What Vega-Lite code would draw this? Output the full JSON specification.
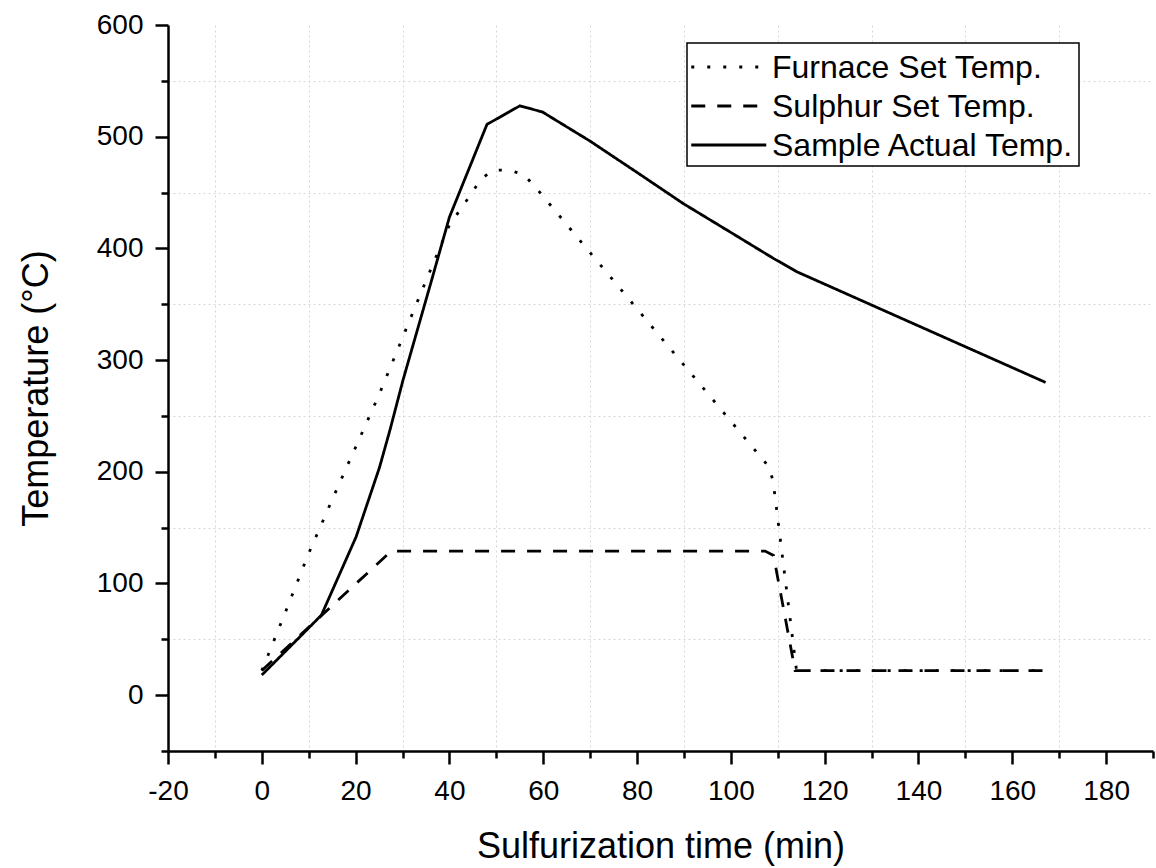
{
  "$schema": "https://vega.github.io/schema/vega-lite/v6.json",
  "width": 985,
  "height": 726,
  "autosize": "none",
  "padding": {"left": 168, "top": 25, "right": 3, "bottom": 117},
  "background": "white",
  "config": {
    "view": {"stroke": null},
    "font": "Liberation Sans",
    "axis": {
      "domainColor": "black",
      "domainWidth": 2.5,
      "tickColor": "black",
      "tickWidth": 2.5,
      "labelFont": "Liberation Sans",
      "labelFontSize": 28,
      "labelColor": "black",
      "titleFont": "Liberation Sans",
      "titleFontSize": 36,
      "titleFontWeight": "normal",
      "titleColor": "black",
      "gridColor": "#d6d6d6",
      "gridDash": [2, 3],
      "gridWidth": 1
    }
  },
  "data": {
    "values": [
      {"t": 0, "temp": 22, "series": "Furnace Set Temp."},
      {"t": 5, "temp": 74, "series": "Furnace Set Temp."},
      {"t": 10, "temp": 127, "series": "Furnace Set Temp."},
      {"t": 15, "temp": 175, "series": "Furnace Set Temp."},
      {"t": 20, "temp": 222, "series": "Furnace Set Temp."},
      {"t": 25, "temp": 269, "series": "Furnace Set Temp."},
      {"t": 30, "temp": 320, "series": "Furnace Set Temp."},
      {"t": 35, "temp": 371, "series": "Furnace Set Temp."},
      {"t": 40, "temp": 421, "series": "Furnace Set Temp."},
      {"t": 42.2, "temp": 434, "series": "Furnace Set Temp."},
      {"t": 44.5, "temp": 448, "series": "Furnace Set Temp."},
      {"t": 46.7, "temp": 462, "series": "Furnace Set Temp."},
      {"t": 49.3, "temp": 470, "series": "Furnace Set Temp."},
      {"t": 52.7, "temp": 470, "series": "Furnace Set Temp."},
      {"t": 55.9, "temp": 466, "series": "Furnace Set Temp."},
      {"t": 58.9, "temp": 452, "series": "Furnace Set Temp."},
      {"t": 108, "temp": 205, "series": "Furnace Set Temp."},
      {"t": 109, "temp": 192, "series": "Furnace Set Temp."},
      {"t": 114, "temp": 22, "series": "Furnace Set Temp."},
      {"t": 167, "temp": 22, "series": "Furnace Set Temp."},
      {"t": 0, "temp": 22, "series": "Sulphur Set Temp."},
      {"t": 27.6, "temp": 129, "series": "Sulphur Set Temp."},
      {"t": 107.3, "temp": 129, "series": "Sulphur Set Temp."},
      {"t": 109.1, "temp": 125, "series": "Sulphur Set Temp."},
      {"t": 113.7, "temp": 22, "series": "Sulphur Set Temp."},
      {"t": 167, "temp": 22, "series": "Sulphur Set Temp."},
      {"t": 0, "temp": 18, "series": "Sample Actual Temp."},
      {"t": 12.7, "temp": 71.6, "series": "Sample Actual Temp."},
      {"t": 20.1, "temp": 141.7, "series": "Sample Actual Temp."},
      {"t": 25.1, "temp": 204, "series": "Sample Actual Temp."},
      {"t": 27.3, "temp": 237, "series": "Sample Actual Temp."},
      {"t": 30.1, "temp": 282, "series": "Sample Actual Temp."},
      {"t": 36.2, "temp": 371.5, "series": "Sample Actual Temp."},
      {"t": 40, "temp": 428, "series": "Sample Actual Temp."},
      {"t": 48, "temp": 511, "series": "Sample Actual Temp."},
      {"t": 55, "temp": 527.6, "series": "Sample Actual Temp."},
      {"t": 59.8, "temp": 522.2, "series": "Sample Actual Temp."},
      {"t": 70, "temp": 496, "series": "Sample Actual Temp."},
      {"t": 80, "temp": 468, "series": "Sample Actual Temp."},
      {"t": 89.9, "temp": 440, "series": "Sample Actual Temp."},
      {"t": 100.5, "temp": 413, "series": "Sample Actual Temp."},
      {"t": 109.1, "temp": 391, "series": "Sample Actual Temp."},
      {"t": 114.1, "temp": 379, "series": "Sample Actual Temp."},
      {"t": 167.1, "temp": 280, "series": "Sample Actual Temp."}
    ]
  },
  "mark": {"type": "line", "color": "black", "strokeWidth": 2.8, "strokeCap": "butt"},
  "encoding": {
    "x": {
      "field": "t",
      "type": "quantitative",
      "scale": {"domain": [-20, 190], "nice": false, "zero": false},
      "axis": {
        "title": "Sulfurization time (min)",
        "values": [-20, -10, 0, 10, 20, 30, 40, 50, 60, 70, 80, 90, 100, 110, 120, 130, 140, 150, 160, 170, 180, 190],
        "labelExpr": "datum.value % 20 === 0 ? '' + datum.value : ''",
        "tickSize": {"condition": {"test": "datum.value % 20 !== 0", "value": 7}, "value": 13},
        "gridOpacity": {"condition": {"test": "datum.value % 20 !== 0 && datum.value < 185", "value": 1}, "value": 0},
        "labelPadding": 13,
        "labelFlush": false,
        "labelOverlap": false,
        "titleBaseline": "alphabetic",
        "titleY": 106
      }
    },
    "y": {
      "field": "temp",
      "type": "quantitative",
      "scale": {"domain": [-50, 600], "nice": false, "zero": false},
      "axis": {
        "title": "Temperature (°C)",
        "values": [-50, 0, 50, 100, 150, 200, 250, 300, 350, 400, 450, 500, 550, 600],
        "labelExpr": "datum.value % 100 === 0 ? '' + datum.value : ''",
        "tickSize": {"condition": {"test": "datum.value % 100 !== 0", "value": 7}, "value": 13},
        "gridOpacity": {"condition": {"test": "datum.value % 100 !== 0 && datum.value > -50", "value": 1}, "value": 0},
        "labelPadding": 12,
        "labelFlush": false,
        "labelOverlap": false,
        "titleBaseline": "alphabetic",
        "titleAngle": -90,
        "titleX": -121,
        "titleY": 363,
        "titleAlign": "center"
      }
    },
    "strokeDash": {
      "field": "series",
      "type": "nominal",
      "scale": {
        "domain": ["Furnace Set Temp.", "Sulphur Set Temp.", "Sample Actual Temp."],
        "range": [[3, 13], [14, 12], [1, 0]]
      },
      "legend": {
        "orient": "none",
        "legendX": 519,
        "legendY": 18,
        "title": null,
        "strokeColor": "black",
        "fillColor": "white",
        "padding": 4,
        "labelFont": "Liberation Sans",
        "labelFontSize": 32,
        "labelColor": "black",
        "labelLimit": 0,
        "labelOffset": 49,
        "rowPadding": 2,
        "symbolType": "M-2.1,0.53H7.9",
        "symbolSize": 225,
        "symbolStrokeWidth": 2.8,
        "symbolStrokeColor": "black",
        "symbolFillColor": "transparent",
        "cornerRadius": 0,
        "encode": {
          "legend": {"update": {"strokeWidth": {"value": 1.5}}},
          "labels": {"update": {"dy": {"value": 5}}}
        }
      }
    }
  }
}
